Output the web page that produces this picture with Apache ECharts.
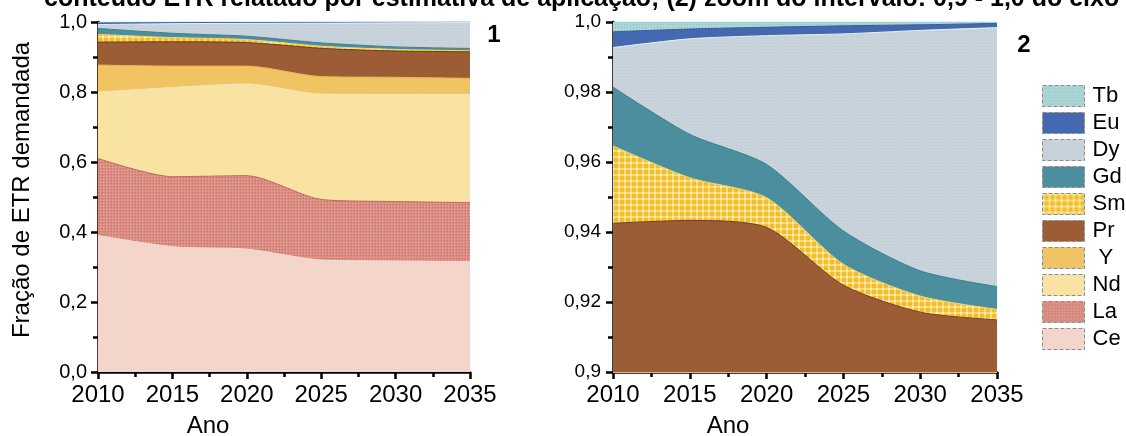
<!DOCTYPE html>
<html>
<head>
<meta charset="utf-8">
<script src="https://cdn.jsdelivr.net/npm/echarts@6/dist/echarts.min.js"></script>
<style>
  html, body { margin: 0; padding: 0; background: #ffffff; }
  #chart { width: 1126px; height: 436px; }
</style>
</head>
<body>
<div id="chart"></div>
<script>
// Projected share of rare-earth demand by element (stacked fractions, sum = 1)
const years = [2010, 2015, 2020, 2025, 2030, 2035];

const ce = [0.390, 0.358, 0.351, 0.320, 0.317, 0.315];
const la = [0.220, 0.200, 0.210, 0.173, 0.170, 0.169];
const nd = [0.190, 0.255, 0.262, 0.301, 0.306, 0.309];
const yy = [0.077, 0.061, 0.051, 0.050, 0.049, 0.046];
const pr = [0.0655, 0.0693, 0.0673, 0.0808, 0.0751, 0.0759];
const sm = [0.0221, 0.0122, 0.0085, 0.0060, 0.0046, 0.0030];
const gd = [0.0168, 0.0124, 0.0095, 0.0095, 0.0072, 0.0065];
const dy = [0.0113, 0.0273, 0.0368, 0.0563, 0.0687, 0.0740];
const eu = [0.0045, 0.0028, 0.0024, 0.0023, 0.0016, 0.0012];
const tb = [0.0028, 0.0020, 0.0015, 0.0011, 0.0008, 0.0004];

// bottom-to-top stacking order
const stackOrder = ['Ce', 'La', 'Nd', 'Y', 'Pr', 'Sm', 'Gd', 'Dy', 'Eu', 'Tb'];
const legendOrder = ['Tb', 'Eu', 'Dy', 'Gd', 'Sm', 'Pr', 'Y', 'Nd', 'La', 'Ce'];
const values = { Ce: ce, La: la, Nd: nd, Y: yy, Pr: pr, Sm: sm, Gd: gd, Dy: dy, Eu: eu, Tb: tb };

// running totals: the upper edge of each element's band
const upperEdge = {};
stackOrder.reduce((acc, name) => {
  const next = acc.map((v, i) => v + values[name][i]);
  upperEdge[name] = next;
  return next;
}, years.map(() => 0));

// small canvas textures for the hatched / dotted fills
function makePattern(size, draw) {
  const c = document.createElement('canvas');
  c.width = size; c.height = size;
  draw(c.getContext('2d'), size);
  return { image: c, repeat: 'repeat' };
}
const smPattern = makePattern(6, (g, s) => {
  g.fillStyle = '#f2bd2c'; g.fillRect(0, 0, s, s);
  g.fillStyle = '#f8da75'; g.fillRect(0, 0, 2, s); g.fillRect(0, 0, s, 2);
  g.fillStyle = '#fcefc2'; g.fillRect(0, 0, 2, 2);
});
const laPattern = makePattern(3, (g, s) => {
  g.fillStyle = '#dc8d83'; g.fillRect(0, 0, s, s);
  g.fillStyle = '#c97168'; g.fillRect(0, 0, 1, 1);
  g.fillStyle = '#e7a79e'; g.fillRect(1, 2, 1, 1);
});
const tbPattern = makePattern(3, (g, s) => {
  g.fillStyle = '#acd6d5'; g.fillRect(0, 0, s, s);
  g.fillStyle = '#8fc1c2'; g.fillRect(0, 0, 1, 1);
});
const dyPattern = makePattern(3, (g, s) => {
  g.fillStyle = '#c9d3dc'; g.fillRect(0, 0, s, s);
  g.fillStyle = '#bfcad4'; g.fillRect(1, 1, 1, 1);
});

const baseColors = {
  Ce: '#f3d5ca', La: '#dc8d83', Nd: '#f8e3a3', Y: '#f0c462', Pr: '#9c5c35',
  Sm: '#f2bd2c', Gd: '#4b8e9e', Dy: '#c9d3dc', Eu: '#4569b0', Tb: '#acd6d5'
};
const fills = Object.assign({}, baseColors, { La: laPattern, Sm: smPattern, Dy: dyPattern, Tb: tbPattern });
const edges = {
  Ce: '#f6e0d8', La: '#c0675f', Nd: '#f6e6b4', Y: '#e8b854', Pr: '#6e3c1e',
  Sm: '#f6d86e', Gd: '#3f7f8f', Dy: '#e8f2f8', Eu: '#3a5c9e', Tb: '#9fcfd0'
};

const FONT = 'Liberation Sans, Arial, sans-serif';

// Each band is drawn as an opaque area from the axis up to its running total;
// painting from the top band down leaves every element its own slice.
function buildSeries(gridIdx) {
  return stackOrder.slice().reverse().map(name => ({
    name: name,
    type: 'line',
    xAxisIndex: gridIdx,
    yAxisIndex: gridIdx,
    smooth: 0.25,
    showSymbol: false,
    symbol: 'none',
    clip: true,
    data: years.map((yr, i) => [yr, upperEdge[name][i]]),
    itemStyle: { color: baseColors[name] },
    lineStyle: { color: edges[name], width: 1 },
    areaStyle: { color: fills[name], opacity: 1 },
    emphasis: { disabled: true }
  }));
}

function xAxis(gridIdx) {
  return {
    type: 'value', gridIndex: gridIdx,
    min: 2010, max: 2035, interval: 5,
    axisLine: { show: true, onZero: false, lineStyle: { color: '#000', width: 2.5 } },
    axisTick: { show: true, length: 7, lineStyle: { color: '#000', width: 2.5 } },
    minorTick: { show: true, splitNumber: 2, length: 5, lineStyle: { color: '#000', width: 2.5 } },
    splitLine: { show: false },
    axisLabel: { color: '#000', fontSize: 24, fontFamily: FONT, margin: 11, formatter: v => String(v) }
  };
}

const option = {
  backgroundColor: '#ffffff',
  animation: false,
  grid: [
    { left: 98, top: 22, width: 372, height: 350 },
    { left: 613, top: 22, width: 384, height: 350 }
  ],
  xAxis: [xAxis(0), xAxis(1)],
  yAxis: [
    {
      type: 'value', gridIndex: 0, min: 0, max: 1, interval: 0.2,
      axisLine: { show: true, lineStyle: { color: '#000', width: 2.5 } },
      axisTick: { show: true, length: 7, lineStyle: { color: '#000', width: 2.5 } },
      minorTick: { show: true, splitNumber: 2, length: 5, lineStyle: { color: '#000', width: 2.5 } },
      splitLine: { show: false },
      axisLabel: { color: '#000', fontSize: 20, fontFamily: FONT, margin: 11,
        formatter: v => v.toFixed(1).replace('.', ',') }
    },
    {
      type: 'value', gridIndex: 1, min: 0.9, max: 1, interval: 0.02,
      axisLine: { show: true, lineStyle: { color: '#000', width: 2.5 } },
      axisTick: { show: true, length: 7, lineStyle: { color: '#000', width: 2.5 } },
      minorTick: { show: true, splitNumber: 2, length: 5, lineStyle: { color: '#000', width: 2.5 } },
      splitLine: { show: false },
      axisLabel: { color: '#000', fontSize: 19, fontFamily: FONT, margin: 12,
        formatter: v => {
          if (Math.abs(v - 0.9) < 1e-9) return '0,9';
          if (Math.abs(v - 1) < 1e-9) return '1,0';
          return v.toFixed(2).replace('.', ',');
        } }
    }
  ],
  legend: {
    orient: 'vertical', left: 1037, top: 80,
    data: legendOrder.map(n => ({ name: n, itemStyle: { color: fills[n] } })),
    icon: 'rect', itemWidth: 42, itemHeight: 21, itemGap: 5,
    selectedMode: false,
    itemStyle: { borderColor: '#8c8c8c', borderWidth: 1, borderType: 'dashed' },
    formatter: n => (n === 'Y' ? ' Y' : n),
    textStyle: { color: '#000', fontSize: 22, fontFamily: FONT, lineHeight: 21, padding: [0, 0, 0, 3] }
  },
  graphic: [
    { type: 'text', x: 44, y: -1, silent: true,
      style: { text: 'conteúdo ETR relatado por estimativa de aplicação; (2) zoom do intervalo: 0,9 - 1,0 do eixo y',
        font: 'bold 25px ' + FONT, fill: '#000', align: 'left', verticalAlign: 'middle' } },
    { type: 'text', x: 494, y: 35, silent: true,
      style: { text: '1', font: 'bold 24px ' + FONT, fill: '#000', align: 'center', verticalAlign: 'middle' } },
    { type: 'text', x: 1024, y: 45, silent: true,
      style: { text: '2', font: 'bold 24px ' + FONT, fill: '#000', align: 'center', verticalAlign: 'middle' } },
    { type: 'text', x: 22, y: 190, rotation: Math.PI / 2, silent: true,
      style: { text: 'Fração de ETR demandada', font: '24px ' + FONT, fill: '#000', align: 'center', verticalAlign: 'middle' } },
    { type: 'text', x: 208, y: 426, silent: true,
      style: { text: 'Ano', font: '24px ' + FONT, fill: '#000', align: 'center', verticalAlign: 'middle' } },
    { type: 'text', x: 728, y: 426, silent: true,
      style: { text: 'Ano', font: '24px ' + FONT, fill: '#000', align: 'center', verticalAlign: 'middle' } }
  ],
  series: buildSeries(0).concat(buildSeries(1))
};

const chart = echarts.init(document.getElementById('chart'), null, { renderer: 'canvas' });
chart.setOption(option);
</script>
</body>
</html>
